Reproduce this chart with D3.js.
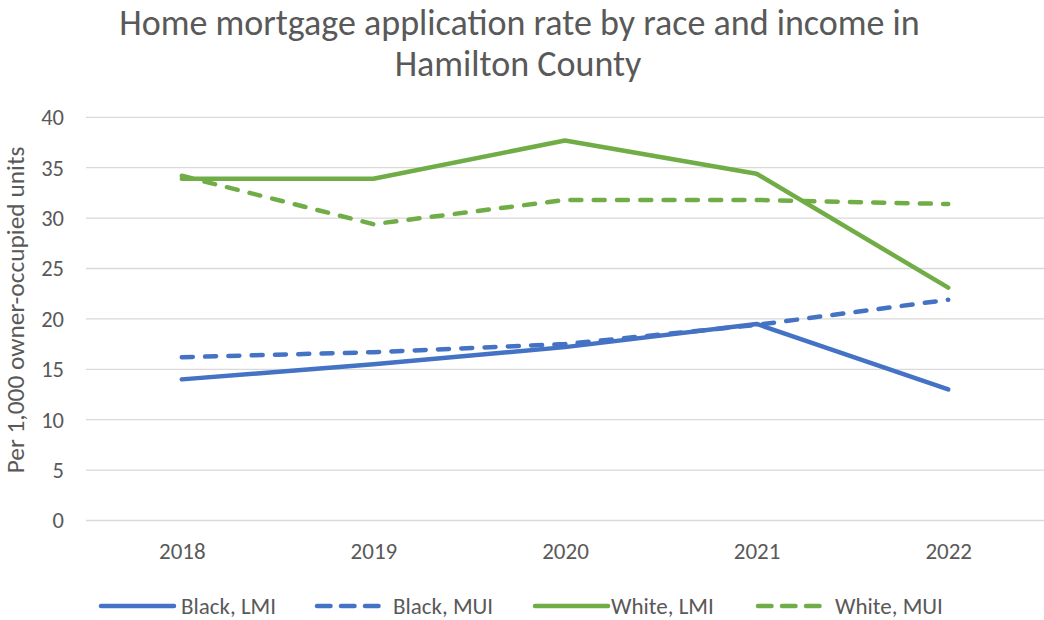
<!DOCTYPE html>
<html lang="en">
<head>
<meta charset="utf-8">
<script src="https://cdn.jsdelivr.net/npm/d3@7"></script>
<style>
body { margin: 0; background: #fff; }
text { font-family: Carlito, Calibri, sans-serif; fill: #595959; }
</style>
</head>
<body>
<script>
// chart data
var years = ["2018", "2019", "2020", "2021", "2022"];
var blackLMI = [14.0, 15.5, 17.2, 19.5, 13.0];
var blackMUI = [16.2, 16.7, 17.5, 19.4, 21.9];
var whiteLMI = [33.9, 33.9, 37.7, 34.4, 23.1];
var whiteMUI = [34.2, 29.4, 31.8, 31.8, 31.4];
var seriesNames = ["Black, LMI", "Black, MUI", "White, LMI", "White, MUI"];
var yTicks = [0, 5, 10, 15, 20, 25, 30, 35, 40];

var width = 1044, height = 620;
var blue = "#4472C4", green = "#70AD47";

var series = [
  {name: seriesNames[0], values: blackLMI, color: blue, dash: null},
  {name: seriesNames[1], values: blackMUI, color: blue, dash: "11,12.3"},
  {name: seriesNames[2], values: whiteLMI, color: green, dash: null},
  {name: seriesNames[3], values: whiteMUI, color: green, dash: "11,12.3"}
];

var svg = d3.select("body").append("svg")
  .attr("width", width)
  .attr("height", height);

var x = d3.scalePoint().domain(years).range([86, 1044]).padding(0.5);
var y = d3.scaleLinear().domain([0, 40]).range([520.5, 117.3]);

// gridlines
svg.append("g").selectAll("line")
  .data(yTicks)
  .enter().append("line")
  .attr("x1", 86).attr("x2", 1044)
  .attr("y1", function(d) { return y(d); })
  .attr("y2", function(d) { return y(d); })
  .style("stroke", "#d9d9d9")
  .style("stroke-width", 1.3);

// y axis labels
var yAxis = svg.append("g")
  .attr("transform", "translate(64,0)")
  .call(d3.axisLeft(y).tickValues(yTicks).tickSize(0).tickPadding(0));
yAxis.select(".domain").remove();
yAxis.selectAll("text")
  .style("font-size", "22.5px")
  .style("fill", "#595959")
  .attr("dy", "0.33em");

// x axis labels
var xAxis = svg.append("g")
  .attr("transform", "translate(0,559)")
  .call(d3.axisBottom(x).tickSize(0).tickPadding(0));
xAxis.select(".domain").remove();
xAxis.selectAll("text")
  .style("font-size", "23px")
  .style("fill", "#595959")
  .attr("dy", "0");

// lines
var line = d3.line()
  .x(function(d, i) { return x(years[i]); })
  .y(function(d) { return y(d); });

svg.append("g").selectAll("path")
  .data(series)
  .enter().append("path")
  .attr("d", function(d) { return line(d.values); })
  .style("fill", "none")
  .style("stroke", function(d) { return d.color; })
  .style("stroke-width", 4.5)
  .style("stroke-linecap", "round")
  .style("stroke-linejoin", "round")
  .style("stroke-dasharray", function(d) { return d.dash; });

// title
var title = svg.append("text")
  .attr("text-anchor", "middle")
  .style("font-size", "36px");
title.append("tspan").attr("x", 519.5).attr("y", 35)
  .text("Home mortgage application rate by race and income in");
title.append("tspan").attr("x", 518).attr("y", 76)
  .text("Hamilton County");

// y axis title
svg.append("text")
  .attr("transform", "translate(24,310) rotate(-90)")
  .attr("text-anchor", "middle")
  .style("font-size", "25.4px")
  .text("Per 1,000 owner-occupied units");

// legend
var legendLineX = [101, 317, 535, 758];
var legendTextX = [181, 393, 611, 835];
var legend = svg.append("g").selectAll("g")
  .data(series)
  .enter().append("g");

legend.append("line")
  .attr("x1", function(d, i) { return legendLineX[i]; })
  .attr("x2", function(d, i) { return legendLineX[i] + (d.dash ? 61.5 : 73); })
  .attr("y1", 606).attr("y2", 606)
  .style("stroke", function(d) { return d.color; })
  .style("stroke-width", 4.5)
  .style("stroke-linecap", "round")
  .style("stroke-dasharray", function(d) { return d.dash ? "13.5,10.5" : null; });

legend.append("text")
  .attr("x", function(d, i) { return legendTextX[i]; })
  .attr("y", 614)
  .style("font-size", "23px")
  .text(function(d) { return d.name; });
</script>
</body>
</html>
